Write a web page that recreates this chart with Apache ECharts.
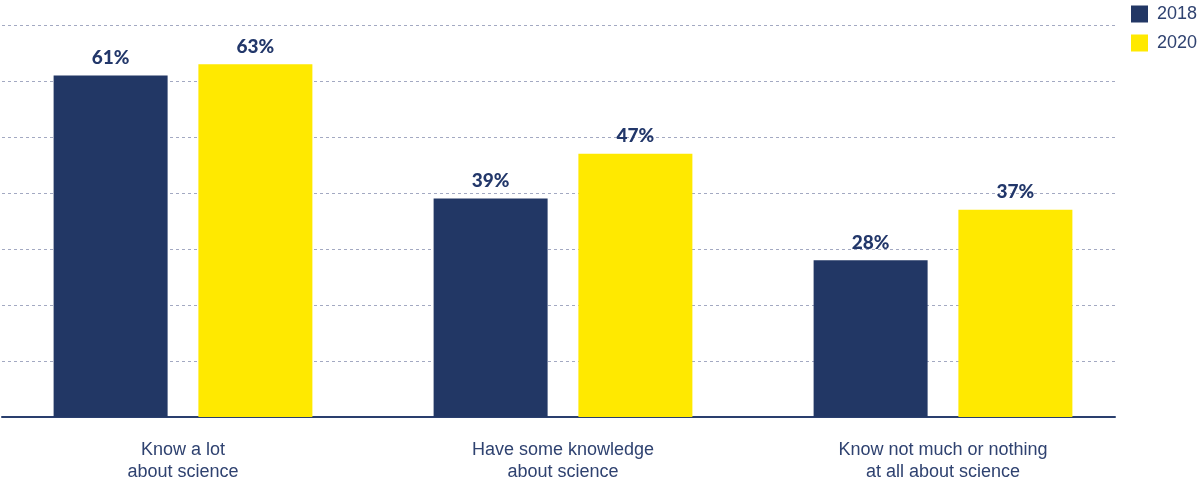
<!DOCTYPE html>
<html>
<head>
<meta charset="utf-8">
<script src="https://cdn.jsdelivr.net/npm/echarts@6/dist/echarts.min.js"></script>
<style>
  html, body { margin: 0; padding: 0; background: #ffffff; }
  #chart { width: 1198px; height: 477px; }
</style>
</head>
<body>
<div id="chart"></div>
<script>
// Self-assessed science knowledge, share of respondents (%)
const categories = [
  'Know a lot\nabout science',
  'Have some knowledge\nabout science',
  'Know not much or nothing\nat all about science'
];
const years = ['2018', '2020'];
const shares2018 = [61, 39, 28];
const shares2020 = [63, 47, 37];
const valueTicks = { min: 0, max: 70, interval: 10 };

const NAVY = '#223765';
const YELLOW = '#ffe900';
const TEXT = '#2f4270';

const chart = echarts.init(document.getElementById('chart'), null, { renderer: 'canvas' });

const barLabel = {
  show: true,
  position: 'top',
  distance: 8,
  formatter: '{c}%',
  color: '#22376a',
  fontFamily: 'Lato',
  fontWeight: 900,
  fontSize: 19
};

chart.setOption({
  animation: false,
  backgroundColor: '#ffffff',
  legend: {
    orient: 'vertical',
    left: 1131,
    top: 5,
    padding: 0,
    itemWidth: 17,
    itemHeight: 17,
    itemGap: 11,
    icon: 'rect',
    data: years,
    textStyle: { color: TEXT, fontSize: 18, fontFamily: 'Liberation Sans', padding: [0, 0, 0, 4] }
  },
  grid: [
    // frame: dashed gridlines and the baseline
    { left: 2, width: 1113, top: 25, bottom: 60, outerBoundsMode: 'none', containLabel: false },
    // bars and category labels
    { left: -7, width: 1140, top: 25, bottom: 60, outerBoundsMode: 'none', containLabel: false }
  ],
  xAxis: [
    {
      type: 'category', gridIndex: 0, data: categories,
      axisLine: { show: true, lineStyle: { color: '#2a3f6e', width: 2 } },
      axisTick: { show: false },
      axisLabel: { show: false }
    },
    {
      type: 'category', gridIndex: 1, data: categories,
      axisLine: { show: false },
      axisTick: { show: false },
      axisLabel: {
        show: true,
        margin: 22,
        color: TEXT,
        fontSize: 18,
        lineHeight: 22,
        fontFamily: 'Liberation Sans'
      }
    }
  ],
  yAxis: [
    {
      type: 'value', gridIndex: 0,
      min: valueTicks.min, max: valueTicks.max, interval: valueTicks.interval,
      axisLine: { show: false }, axisTick: { show: false }, axisLabel: { show: false },
      splitLine: { show: true, lineStyle: { color: '#a3a9c2', type: [3, 3], width: 1 } }
    },
    {
      type: 'value', gridIndex: 1,
      min: valueTicks.min, max: valueTicks.max, interval: valueTicks.interval,
      show: false,
      splitLine: { show: false }
    }
  ],
  series: [
    {
      name: years[0], type: 'bar', xAxisIndex: 1, yAxisIndex: 1,
      data: shares2018, barWidth: 114, barGap: '27%',
      itemStyle: { color: NAVY },
      label: barLabel
    },
    {
      name: years[1], type: 'bar', xAxisIndex: 1, yAxisIndex: 1,
      data: shares2020, barWidth: 114, barGap: '27%',
      itemStyle: { color: YELLOW },
      label: barLabel
    }
  ]
});
</script>
</body>
</html>
